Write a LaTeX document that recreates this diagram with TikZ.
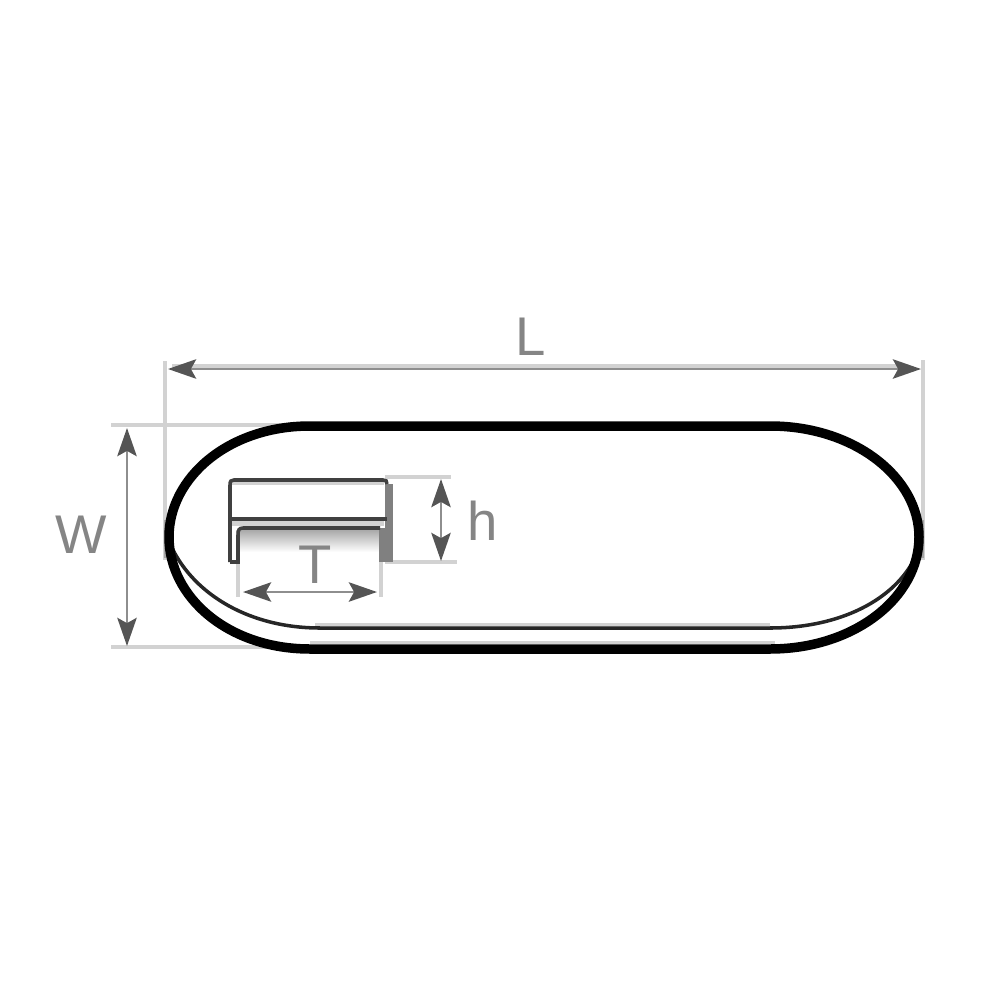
\documentclass[tikz,border=0pt]{standalone}
\usepackage{fontspec}
\setmainfont{Liberation Sans}
\usetikzlibrary{arrows.meta}
\definecolor{extc}{HTML}{D2D2D2}
\definecolor{dimc}{HTML}{8E8E8E}
\definecolor{headc}{HTML}{555555}
\definecolor{labc}{HTML}{858585}
\tikzset{
  ext/.style={extc,line width=1.4pt},
  dimline/.style={dimc,line width=0.8pt,{Stealth[length=8pt,width=5.5pt,color=headc,inset=1.5pt]}-{Stealth[length=8pt,width=5.5pt,color=headc,inset=1.5pt]}},
  outline/.style={black,line width=2.7pt},
  inner/.style={black!85,line width=1pt},
  boxline/.style={black!75,line width=1pt},
  halo/.style={extc,line width=0.9pt},
  lab/.style={labc,font=\fontsize{15.5}{16}\selectfont,inner sep=0pt}
}
\begin{document}
\begin{tikzpicture}[x=0.01cm,y=-0.01cm]
\useasboundingbox (0,0) rectangle (1000,1000);
% extension lines
\draw[ext] (165,361) -- (165,560);
\draw[ext] (923,360) -- (923,560);
\draw[black!35,line width=1.2pt] (166,520) -- (166,558);
\draw[black!35,line width=1.2pt] (922,520) -- (922,558);
\draw[ext] (111,425) -- (300,425);
\draw[ext] (111,647) -- (280,647);
\draw[ext] (385,477) -- (451,477);
\draw[ext] (385,562) -- (457,562);
\draw[ext] (238,530) -- (238,597);
\draw[ext] (381,530) -- (381,597);
% soft edges along the long lines
\draw[halo] (172,366) -- (905,366);
\draw[halo] (310,642.5) -- (775,642.5);
\draw[halo] (315,625) -- (770,625);
% dimension arrows
\coordinate (La) at (168,369); \coordinate (Lb) at (921,369);
\coordinate (Wa) at (127,428); \coordinate (Wb) at (127,646);
\coordinate (ha) at (441,479); \coordinate (hb) at (441,561);
\coordinate (Ta) at (243,592); \coordinate (Tb) at (377,592);
\draw[dimline] (La) -- (Lb);
\draw[dimline] (Wa) -- (Wb);
\draw[dimline] (ha) -- (hb);
\draw[dimline] (Ta) -- (Tb);
% gradient face of the small part
\shade[top color=black!35,bottom color=white] (240,529) rectangle (379,552);
\fill[extc] (232,521) rectangle (384,526);
\draw[halo] (232,483) -- (384,483);
% right wall of the small part
\fill[black!50] (385,484) rectangle (393,562);
\fill[black!50] (379,528) rectangle (393,562);
% small part
\draw[boxline] (230,562) -- (230,485) .. controls (230,481) and (231,480) .. (234,480) -- (383,480) .. controls (386,480) and (387,481) .. (387,484);
\draw[boxline] (230,519) -- (387,519);
\draw[boxline] (230,562) -- (238,562) -- (238,535) .. controls (238,530) and (239,528) .. (243,528) -- (380,528);
% inner rim
\draw[inner] (172,548) .. controls (195,595) and (250,628) .. (320,628) -- (770,628) .. controls (840,628) and (895,600) .. (916,556);
% outline
\draw[outline] (310,426) -- (770,426) .. controls (855,426) and (919,478) .. (919,537) .. controls (919,597) and (855,649) .. (770,649) -- (310,649) .. controls (228,649) and (169,597) .. (169,537) .. controls (169,478) and (228,426) .. (310,426) -- cycle;
% labels
\node[lab] (Ll) at (531,337) {L};
\node[lab] (Wl) at (81,535) {W};
\node[lab] (hl) at (483,521) {h};
\node[lab] (Tl) at (315,565) {T};
\end{tikzpicture}
\end{document}
